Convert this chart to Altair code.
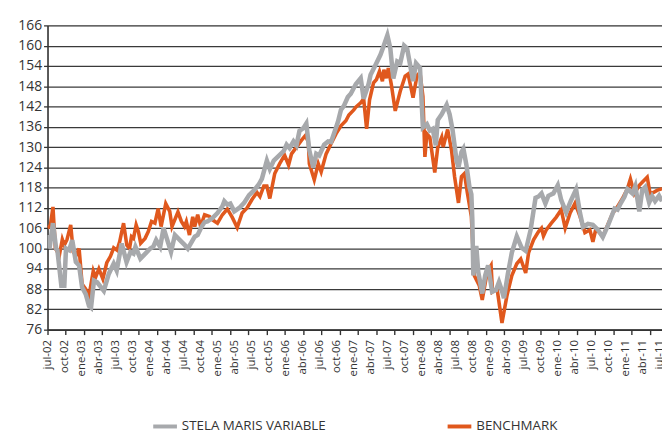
import json
import altair as alt
import pandas as pd

# x position = months elapsed since jul-02 (fractional)
stela_months = [0, 0.35, 0.96, 1.52, 1.74, 2.44, 2.96, 3.26, 3.83, 4.36, 5.00, 5.57, 6.10, 6.74, 7.32, 7.67,
                8.19, 8.76, 9.93, 10.80, 11.67, 12.20, 13.07, 13.94, 14.63, 15.16, 15.51, 16.38, 17.25, 18.12,
                18.64, 19.16, 19.86, 20.47, 21.78, 22.47, 23.34, 24.22, 24.74, 25.96, 26.48, 27.18, 27.70,
                28.22, 29.09, 29.97, 30.84, 31.18, 31.71, 32.23, 32.93, 33.80, 34.67, 35.54, 36.41, 37.28,
                37.80, 38.68, 39.20, 39.90, 40.77, 41.64, 42.16, 42.68, 43.38, 43.90, 44.43, 45.12, 45.64,
                46.17, 46.86, 47.39, 47.91, 48.78, 49.48, 50.00, 50.52, 51.22, 51.74, 52.26, 52.96, 53.48,
                54.36, 55.23, 55.75, 56.62, 56.97, 57.84, 58.71, 59.23, 59.93, 60.45, 60.98, 61.67, 62.20,
                62.89, 63.41, 63.94, 64.46, 64.98, 65.68, 66.20, 66.90, 67.42, 67.94, 68.47, 68.82, 69.51,
                70.38, 70.91, 71.43, 72.13, 72.47, 73.00, 73.34, 73.87, 74.39, 74.74, 74.91, 75.09, 75.61,
                75.96, 76.66, 77.18, 77.70, 78.40, 79.09, 79.62, 80.14, 80.49, 81.18, 81.88, 82.75, 83.62,
                84.32, 85.19, 86.06, 86.59, 87.11, 87.80, 88.33, 89.20, 89.98, 90.59, 91.46, 92.33, 93.21,
                93.90, 94.43, 95.30, 96.17, 97.04, 97.91, 98.78, 100.00, 100.52, 101.05, 101.74, 102.26,
                103.14, 103.66, 104.36, 104.88, 105.40, 106.10, 106.62, 107.14, 107.84, 108.36]
stela_values = [104, 100, 107.5, 100, 99.5, 89, 89, 100, 99.5, 102.5, 96, 95, 88.5, 86.5, 83, 82.5,
                90.5, 90, 87.5, 92.5, 95.5, 93.5, 101.5, 96, 99, 98.5, 100.5, 97, 98.5, 100,
                100.5, 102.5, 100.5, 106, 99, 104, 102.5, 101, 100, 103.5, 104, 106.5, 107.8,
                108, 109, 110.5, 112.5, 114, 113, 113.3, 111, 112, 113.5, 115.8, 117.2, 119,
                120.6, 126, 123.5, 126, 127.4, 128.8, 130.7, 129.7, 131.7, 130.5, 134.8, 135.6, 137,
                129, 124, 128, 127.5, 130.7, 131.7, 131.5, 134, 137.5, 141, 142.2, 144.8, 145.8,
                148.6, 150.4, 144.3, 148.7, 151.4, 154.3, 157.3, 159.7, 163.1, 159.2, 150.3, 155.3, 154.8,
                160, 159.2, 154.3, 149.5, 154.8, 153.4, 135.8, 136.8, 134.9, 135.4, 130.5, 138, 139.7,
                142.5, 139.7, 135, 126, 124, 128.5, 129.5, 124.7, 118.3, 116, 108.6, 92, 100.8,
                93, 86.7, 92, 95, 87.2, 87.7, 90.1, 87.5, 85.3, 92.5, 98.8, 103.6, 100.2,
                99.3, 105.5, 115, 115.4, 116.3, 113.3, 115.6, 116.3, 118.7, 114.3, 110.7, 114.3, 117.5,
                110.5, 106.4, 107.3, 107, 105.6, 103.4, 106.6, 111.8, 111.5, 113.3, 115.3, 117.6,
                116.3, 118.5, 111, 117.3, 118.2, 113.6, 115.5, 114, 115.6, 114]

bench_months = [0, 0.52, 0.96, 1.39, 2.09, 2.61, 2.96, 3.43, 4.09, 4.53, 5.05, 5.57, 6.10, 6.74, 7.32, 8.07,
                8.48, 9.06, 9.76, 10.45, 11.10, 11.67, 12.25, 12.72, 13.41, 13.99, 14.46, 14.81, 15.16, 15.63,
                16.03, 16.43, 17.20, 17.77, 18.34, 18.94, 19.51, 20.03, 20.85, 21.55, 21.95, 23.00, 23.61,
                24.16, 24.48, 25.03, 25.61, 25.96, 26.48, 27.00, 27.70, 28.57, 29.09, 29.97, 30.84, 31.71,
                32.58, 33.45, 34.32, 35.19, 36.06, 36.93, 37.46, 38.15, 38.68, 39.20, 40.07, 40.94, 41.81,
                42.51, 43.03, 43.90, 44.77, 45.47, 45.99, 46.17, 47.04, 47.74, 48.26, 49.13, 50.00, 50.87,
                51.74, 52.61, 53.14, 54.01, 54.36, 55.23, 55.75, 56.27, 56.79, 57.49, 58.01, 58.54, 59.06,
                59.32, 59.76, 60.10, 60.63, 61.32, 62.20, 63.07, 63.59, 64.46, 65.16, 65.68, 66.20, 66.55,
                66.90, 67.42, 68.29, 68.82, 69.51, 69.77, 70.56, 71.25, 71.78, 72.47, 73.00, 73.52, 74.04,
                74.74, 75.26, 76.13, 76.66, 77.53, 78.22, 78.48, 79.27, 80.14, 81.01, 81.88, 82.75, 83.45,
                84.32, 84.84, 85.71, 86.59, 87.11, 87.46, 87.98, 88.85, 89.72, 90.59, 91.29, 92.16, 93.03,
                93.90, 94.77, 95.64, 96.17, 96.69, 97.39, 97.91, 98.43, 99.65, 100.52, 101.39, 102.26,
                102.79, 103.48, 104.36, 104.88, 105.75, 106.27, 106.97, 107.49, 108.36]
bench_values = [106, 107, 112.3, 100, 98, 102.7, 101, 102.6, 107, 99, 98, 100, 89.5, 88, 86, 93.4,
                91.5, 94, 91, 95.8, 97.7, 100.2, 99.5, 102, 107.5, 101, 100, 103.5, 103, 107,
                105, 101.6, 103, 105, 108, 107.5, 111.8, 106.5, 113.3, 111, 106.5, 110.8, 108,
                106.5, 108, 104, 109.4, 106.5, 110, 106.6, 110, 109.5, 108.5, 107.5, 110, 111.7,
                109.2, 106.2, 110.5, 112, 114.5, 116.6, 115.4, 118.5, 118.5, 114.8, 122.2, 125.1, 127.6,
                124.7, 128, 130, 132, 133.4, 131.5, 125.1, 120.3, 125.1, 122.7, 128, 131, 133.9,
                136.3, 137.8, 139.5, 141, 141.8, 143.1, 144.3, 135.4, 144, 149, 150, 152.4, 149.5,
                152.9, 150.4, 153.4, 148.5, 140.7, 146.5, 151, 151.6, 144.6, 151.2, 152, 145, 127.1,
                133.9, 132.9, 122.5, 130, 132.9, 130, 135.2, 129, 121.3, 113.5, 121.3, 122.2, 116.4,
                109.5, 92, 89.1, 84.8, 93, 95, 87.2, 88.2, 78, 86, 92, 95.5, 96.9,
                92.8, 98.8, 102.6, 105, 106, 103.7, 105.6, 107.5, 109.3, 111.5, 106, 110.5, 113.4,
                109.5, 104.7, 105.5, 102, 105.7, 104.6, 103.6, 105.6, 110.4, 112.4, 114.8, 117.7,
                120.6, 116.2, 118.7, 119.6, 121.1, 116.2, 116.7, 117.2, 117.7]

tick_labels = ["jul-02", "oct-02", "ene-03", "abr-03", "jul-03", "oct-03", "ene-04", "abr-04", "jul-04",
               "oct-04", "ene-05", "abr-05", "jul-05", "oct-05", "ene-06", "abr-06", "jul-06", "oct-06",
               "ene-07", "abr-07", "jul-07", "oct-07", "ene-08", "abr-08", "jul-08", "oct-08", "ene-09",
               "abr-09", "jul-09", "oct-09", "ene-10", "abr-10", "jul-10", "oct-10", "ene-11", "abr-11",
               "jul-11"]
y_ticks = [76, 82, 88, 94, 100, 106, 112, 118, 124, 130, 136, 142, 148, 154, 160, 166]
series_names = ["STELA MARIS VARIABLE", "BENCHMARK"]
series_colors = ["#A7A9AC", "#E0581D"]

label_positions = [3 * i for i in range(len(tick_labels))]
# minor tick marks every 14 weeks (as in the original category axis)
tick_positions = [round(k * 98 / 30.4375, 3) for k in range(34)]

df = pd.concat([
    pd.DataFrame({"m": stela_months, "v": stela_values, "serie": series_names[0]}),
    pd.DataFrame({"m": bench_months, "v": bench_values, "serie": series_names[1]}),
])

FONT = "Open Sans"
TXT = "#333333"

xscale = alt.Scale(domain=[0, 108.36], nice=False, zero=False)
yscale = alt.Scale(domain=[76, 166], nice=False, zero=False)
color = alt.Color("serie:N", scale=alt.Scale(domain=series_names, range=series_colors),
                  legend=alt.Legend(title=None, orient="none", legendX=105, legendY=392,
                                    direction="horizontal", columns=2, columnPadding=115,
                                    symbolType="stroke", symbolSize=576, symbolStrokeWidth=4,
                                    labelFont=FONT, labelFontSize=13.5, labelColor=TXT,
                                    labelLimit=400, labelOffset=3))

yaxis = alt.Axis(values=y_ticks, title=None, grid=True, gridColor="#3a3a3a", gridWidth=1.3,
                 domain=True, domainColor="#333333", domainWidth=1.6, tickSize=4, tickColor="#333333",
                 tickWidth=1.3, labelFont=FONT, labelFontSize=14, labelColor=TXT, labelPadding=2)

bench_layer = alt.Chart(df).transform_filter(alt.datum.serie == series_names[1]).mark_line(
    strokeWidth=3.6, strokeJoin="miter", clip=True
).encode(
    x=alt.X("m:Q", scale=xscale,
            axis=alt.Axis(orient="bottom", values=tick_positions, labels=False, domain=False, grid=False,
                          ticks=True, tickSize=5, tickColor="#333333", tickWidth=1.4, title=None)),
    y=alt.Y("v:Q", scale=yscale, axis=yaxis),
    color=color,
)

stela_layer = alt.Chart(df).transform_filter(alt.datum.serie == series_names[0]).mark_line(
    strokeWidth=4.6, strokeJoin="miter", clip=True
).encode(
    x=alt.X("m:Q", scale=xscale,
            axis=alt.Axis(orient="bottom", values=label_positions,
                          labelExpr=f"{json.dumps(tick_labels)}[round(datum.value/3)]",
                          labelAngle=270, labelFlush=False, labelOverlap=False, ticks=False,
                          domain=True, domainColor="#333333", domainWidth=1.6, grid=False,
                          labelFont=FONT, labelFontSize=11.5, labelColor=TXT, labelPadding=10,
                          title=None)),
    y=alt.Y("v:Q", scale=yscale, axis=yaxis),
    color=color,
)

chart = alt.layer(bench_layer, stela_layer).resolve_axis(x="independent").properties(
    width=622, height=308,
    autosize=alt.AutoSizeParams(type="none"),
    padding={"left": 40, "top": 15, "right": 0, "bottom": 103},
).configure_view(stroke=None).configure(background="white")

chart.save("out.html", embed_options={"renderer": "svg", "actions": False})
